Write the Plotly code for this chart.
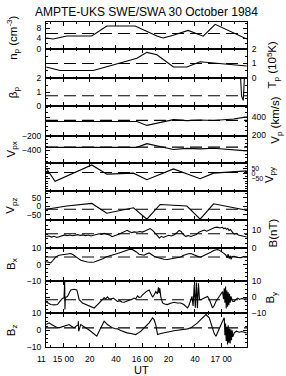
import numpy as np
import plotly.graph_objects as go

title_text = "AMPTE-UKS SWE/SWA 30 October 1984"

# ---- data (UT in minutes after 14:00) ----
np_t = [47.0, 52.2, 62.6, 81.6, 93.0, 114.6, 131.1, 135.9, 143.5, 154.9, 166.3, 175.4, 199.4]
np_v = [4.2, 3.8, 5.0, 5.0, 8.9, 8.9, 5.0, 4.2, 5.3, 7.2, 4.9, 9.6, 3.8]
np_ref = 6.0

tp_t = [47.0, 57.5, 82.8, 100.6, 115.9, 123.5, 131.1, 143.7, 153.9, 164.0, 176.7, 189.4, 199.4]
tp_v = [0.76, 0.52, 0.52, 1.0, 1.36, 1.76, 1.6, 0.76, 0.76, 1.12, 1.0, 0.93, 0.83]
tp_ref = 1.0

bp_t = [47.0, 120.0, 194.5, 195.5, 196.8, 197.8, 199.4]
bp_v = [2.4, 2.4, 2.4, 0.7, 0.4, 2.4, 2.4]
bp_ref = 0.74

vp_t = [47.0, 115.9, 123.5, 143.7, 153.9, 164.0, 174.2, 189.4, 199.4]
vp_v = [353, 353, 310, 372, 362, 368, 363, 380, 402]
vp_ref = 364

vpx_t = [47.0, 115.9, 123.5, 143.7, 153.9, 164.0, 174.2, 189.4, 199.4]
vpx_v = [-358, -358, -308, -386, -372, -378, -370, -386, -406]
vpx_ref = -355

vpy_t = [47.0, 53.7, 81.6, 93.0, 113.3, 123.5, 143.7, 164.0, 174.2, 199.4]
vpy_v = [57, -76, 90, -3, 7, -60, 50, -50, 7, 30]
vpy_ref = 14

vpz_t = [47.0, 62.6, 81.6, 93.0, 113.3, 123.5, 133.6, 153.9, 164.0, 174.2, 199.4]
vpz_v = [-17, 2, 17, -40, -8, -75, 11, 2, -75, 15, -23]
vpz_ref = -17

b_t = [47.0, 49, 51, 53, 55, 57, 59, 61, 63, 65, 67, 69, 71, 73, 75, 77, 79, 81, 83, 85,
       87, 89, 91, 93, 95, 97, 99, 101, 103, 105, 107, 108.5, 110, 112, 114, 116, 118, 120,
       122, 124, 126, 128, 130, 131.5, 133, 134.5, 136, 138, 140, 142, 144, 146, 148, 149.5,
       151, 153, 155, 157, 159, 161, 163, 165, 167, 169, 171, 173, 175, 177, 179, 181, 182,
       183, 184, 185, 186, 187, 188, 189, 190, 191.5, 193, 195, 197, 199.4]
b_v = [6.3, 6.6, 6.0, 6.4, 5.8, 6.2, 6.9, 7.2, 6.8, 7.1, 6.7, 7.0, 7.3, 6.9, 7.2, 6.8, 7.1, 6.6,
       6.9, 7.3, 7.8, 7.5, 8.0, 7.6, 7.2, 6.2, 6.5, 7.2, 7.8, 8.5, 9.2, 9.7, 9.0, 8.4, 8.8, 8.6,
       9.0, 8.7, 9.3, 10.0, 10.6, 9.5, 8.2, 6.8, 5.5, 6.4, 5.8, 6.3, 7.0, 6.6, 7.1, 8.2, 9.6,
       9.0, 7.5, 6.4, 6.8, 6.3, 6.9, 7.4, 8.6, 9.4, 9.8, 9.2, 9.9, 10.6, 11.2, 11.4, 10.9, 11.3,
       10.5, 11.0, 10.2, 10.8, 9.6, 10.1, 8.8, 8.2, 7.6, 8.0, 7.1, 6.8, 6.1, 6.0]
b_ref = 7.8

bx_t = [47, 49, 50.4, 52, 54.2, 56.7, 58.5, 60.5, 63, 65.6, 67.5, 69.4, 71, 73.2, 75.5, 78.3,
        81, 83.4, 86, 88.5, 90.5, 92.3, 94, 96.1, 98.5, 101.1, 103.5, 106.2, 108, 110, 112,
        113.8, 115.5, 117.6, 119.5, 121.4, 123.3, 125.2, 127, 129, 131.5, 134.1, 136.5, 139.1,
        141.5, 144.2, 146.5, 149.3, 151, 153.1, 155, 157, 159, 160.8, 162.5, 164.6, 167, 169.6,
        172, 174.7, 176, 177.2, 178.5, 180, 181, 182.3, 183.6, 184.5, 185.2, 186.1, 186.8,
        187.5, 188.3, 189.9, 192, 195, 197, 199.4]
bx_v = [1.8, 1.3, 1.0, 2.5, 4.7, 5.8, 6.0, 6.4, 6.6, 6.8, 6.0, 5.1, 4.0, 2.7, 2.0, 1.6, 1.4,
        1.6, 2.4, 3.1, 3.8, 4.7, 5.2, 5.8, 6.2, 6.8, 7.5, 8.4, 8.9, 9.3, 9.5, 8.8, 7.8, 6.4,
        6.0, 5.8, 6.6, 7.2, 6.2, 5.1, 4.3, 3.7, 3.3, 3.1, 3.4, 3.7, 4.1, 4.7, 5.6, 6.4, 6.7,
        6.8, 6.0, 5.1, 4.9, 4.7, 5.5, 6.4, 7.6, 8.8, 9.2, 9.3, 8.9, 8.2, 7.8, 6.8, 5.8, 4.2,
        6.5, 3.7, 5.5, 3.2, 5.0, 5.1, 4.4, 4.3, 4.9, 4.7]
bx_ref = 4.7

by_t = [47, 49, 50.4, 53, 55.5, 57.5, 59.3, 60.5, 61.0, 61.2, 61.5, 63.1, 64.5, 65.6, 68.2,
        70.2, 71, 72, 74.5, 77, 79.6, 83.4, 86, 88, 89.8, 91, 92.3, 93.5, 94.5, 96.1, 98, 99.5,
        101.1, 103, 104.5, 106.2, 108, 110, 112, 113.8, 115, 116.4, 117.5, 118.9, 120, 121.4,
        123, 125.2, 126.5, 127.8, 129, 130.3, 131.5, 132.3, 132.8, 133.3, 134.1, 135.4, 137,
        139.1, 141.5, 144.2, 146.5, 149.3, 151.5, 153.1, 154.4, 155.5, 157, 157.8, 158.6,
        159.5, 160.3, 161.1, 161.9, 162.7, 163.5, 164.6, 167.1,
        169.6, 171, 172.2, 173.4, 174.8, 176, 178.5, 180, 181, 181.8, 182.3, 182.8, 183.3,
        183.8, 184.3, 184.8, 185.3, 185.8, 186.3, 186.8, 187.4, 188.5, 189.9, 191, 192.5, 194,
        195.5, 197.5, 199.4]
by_v = [-3.0, -4.2, -4.6, -4.8, -4.6, -2.5, -0.8, -0.4, 9.5, -7.7, -0.2, 0.4, 2.5, 4.4, 4.8,
        4.4, 2.0, -1.6, -3.6, -4.6, -5.7, -6.7, -4.6, -3.0, -1.6, -0.4, -1.0, 0.2, -0.8, -1.2,
        -0.6, -1.8, -2.6, -2.2, -3.0, -3.2, -2.4, -2.0, -1.4, -0.6, -1.2, 0.8, -0.2, 0.0, 1.2,
        2.4, 3.4, 4.4, 2.2, 0.0, 1.5, 3.4, 2.0, 6.0, 2.5, 5.5, 0.0, -3.6, -4.2, -4.6, -3.8,
        -3.2, -3.6, -3.6, -4.6, -5.7, -6.7, -5.0, -1.6, 0.5, -5.5, 7.5, -6.5, 9.0, -6.8, 8.5,
        -1.6, -1.6, -0.6, 0.4, -1.5, -3.6, -6.7, -5.0, -2.6, 0.4, 1.8,
        3.4, -1.2, 5.5, -3.5, 6.5, -7.0, 4.0, -6.0, 3.0, -5.0, 2.0, -3.5, 0.5, -2.5, -2.6,
        -1.5, -0.6, -1.4, -0.9, -1.2, -0.8]
by_ref = -1.6

bz_t = [47, 49.1, 51, 52.9, 54.8, 56.7, 58.6, 60.5, 62.4, 64.3, 66.2, 68.1, 70, 71.2, 71.4,
        71.6, 73.2, 75, 77, 79, 80.8, 83.4, 85.4, 87.2, 89.7, 91, 93.5, 95.5, 97.3, 99, 101.1,
        103.5, 106.2, 108.5, 111.3, 113, 115.1, 117, 118.9, 121.4, 123.3, 125.2, 127.8, 129,
        130.3, 131.1, 131.6, 134.1, 136, 137.9, 139.8, 141.7, 144, 146.8, 149.5, 151.9, 154.5,
        156.9, 159.5, 162, 164, 165.8, 168.4, 170.9, 173.4, 174.7, 176, 178.5, 181, 182.3,
        182.8, 183.3, 183.8, 184.3, 184.8, 185.3, 185.8, 186.3, 186.8, 187.3, 187.8, 188.3,
        188.8, 189.9, 191.5, 193.7, 195.5, 197.5, 199.4]
bz_v = [3.4, 4.4, 3.4, 2.4, 1.8, 1.4, 1.9, 2.4, 2.9, 3.4, 2.4, 1.4, 2.6, 3.2, 5.4, -0.6, 3.4,
        2.6, 1.4, 0.4, -0.6, -2.6, -3.6, -0.6, 3.4, 5.4, 3.4, 2.2, 1.4, 1.0, 0.8, -0.2, -1.2,
        -1.6, -2.0, -2.3, -2.6, -1.6, -0.6, 1.4, 2.8, 4.4, 7.4, 6.4, 3.0, 0.4, -2.6, -2.0, -1.6,
        -1.2, -0.8, -0.6, -0.3, 0.0, 0.2, 0.4, 0.8, 1.4, 2.8, 4.4, 6.0, 7.4, 9.4, 7.4, 1.4,
        -2.0, -3.6, 1.4, 5.4, 7.4, -3.0, 4.0, -6.5, 2.0, -8.6, 3.0, -7.5, 1.0, -8.0, 0.5, -6.0,
        0.0, -4.0, -1.6, -0.6, -1.2, -0.8, -1.2, -1.6]
bz_ref = 1.4

# x-axis ticks
x_tickvals = [60, 80, 100, 120, 140, 160, 180]
x_ticktext = ["15 00", "20", "40", "16 00", "20", "40", "17 00"]
x_range = [46.8, 199.6]

# ---- panel styling ----
FONT = "Liberation Sans, Arial, sans-serif"
panels = [
    dict(t=np_t, v=np_v, ref=np_ref, side="left", rng=[0, 10.5], tv=[0, 4, 8], mn=2,
         title="n<sub>p</sub> (cm<sup>-3</sup>)", tf=8.5),
    dict(t=tp_t, v=tp_v, ref=tp_ref, side="right", rng=[-0.01, 2.01], tv=[0, 1, 2], mn=0.5,
         title="T<sub>p</sub> (10<sup>5</sup>K)", tf=8.5),
    dict(t=bp_t, v=bp_v, ref=bp_ref, side="left", rng=[-0.01, 2.01], tv=[0, 1, 2], mn=0.5,
         title="β<sub>p</sub>", tf=8.5),
    dict(t=vp_t, v=vp_v, ref=vp_ref, side="right", rng=[199, 521], tv=[200, 400], mn=50,
         title="V<sub>p</sub> (km/s)", tf=8.5),
    dict(t=vpx_t, v=vpx_v, ref=vpx_ref, side="left", rng=[-573, -199], tv=[-400, -200], mn=50,
         title="V<sub>px</sub>", tf=8.5),
    dict(t=vpy_t, v=vpy_v, ref=vpy_ref, side="right", rng=[-173, 107], tv=[-50, 0, 50], mn=25,
         title="V<sub>py</sub>", tf=7),
    dict(t=vpz_t, v=vpz_v, ref=vpz_ref, side="left", rng=[-77, 90], tv=[-50, 0, 50], mn=25,
         title="V<sub>pz</sub>", tf=8.5),
    dict(t=b_t, v=b_v, ref=b_ref, side="right", rng=[-0.05, 15.5], tv=[0, 10], mn=2.5,
         title="B(nT)", tf=8.5),
    dict(t=bx_t, v=bx_v, ref=bx_ref, side="left", rng=[-10.05, 10.1], tv=[-10, 0, 10], mn=2.5,
         title="B<sub>x</sub>", tf=8.5),
    dict(t=by_t, v=by_v, ref=by_ref, side="right", rng=[-10.05, 10.05], tv=[-10, 0, 10], mn=2.5,
         title="B<sub>y</sub>", tf=8.5),
    dict(t=bz_t, v=bz_v, ref=bz_ref, side="left", rng=[-10.05, 10.05], tv=[-10, 0, 10], mn=2.5,
         title="B<sub>z</sub>", tf=8.5),
]

W, H = 286, 376
ML, MR, MT, MB = 46, 39, 22, 25
bounds_px = [22, 49, 79, 107, 137, 165, 193, 222, 251, 284, 317, 351]
title_px = [(13, 38), (273, 66), (14, 93), (276, 122), (12, 151), (270, 177),
            (11, 208), (273, 236), (12, 267), (271, 301), (12, 334)]

pw, ph = W - ML - MR, H - MT - MB


def px2paper(px, py):
    return (px - ML) / pw, (H - MB - py) / ph


def ax_id(letter, i):
    return letter if i == 1 else f"{letter}{i}"


fig = go.Figure()
layout = dict(
    width=W, height=H, margin=dict(l=ML, r=MR, t=MT, b=MB),
    paper_bgcolor="white", plot_bgcolor="white", showlegend=False,
    font=dict(family=FONT, size=9, color="black"),
    annotations=[], shapes=[],
)

minor_x = [m for m in range(50, 200, 10) if m % 20 != 0]
n = len(panels)
for i, p in enumerate(panels, start=1):
    xa, ya = ax_id("x", i), ax_id("y", i)
    fig.add_trace(go.Scatter(x=p["t"], y=p["v"], mode="lines",
                             line=dict(color="black", width=1.1),
                             xaxis=xa, yaxis=ya, hoverinfo="skip"))
    y0 = (H - MB - bounds_px[i]) / ph
    y1 = (H - MB - bounds_px[i - 1]) / ph
    layout[ax_id("xaxis", i)] = dict(
        domain=[0, 1], anchor=ya, range=x_range, showgrid=False, zeroline=False,
        showline=True, mirror="allticks", linecolor="black", linewidth=1,
        ticks="inside", ticklen=4, tickwidth=1, tickcolor="black",
        tickmode="array", tickvals=x_tickvals, ticktext=x_ticktext,
        minor=dict(ticks="inside", ticklen=2, tickwidth=1, tickcolor="black",
                   tickmode="array", tickvals=minor_x),
        showticklabels=(i == n), tickfont=dict(size=8.5, family=FONT),
        ticklabelstandoff=4,
    )
    lo, hi = p["rng"]
    mv = [round(float(v), 3) for v in np.arange(np.ceil(lo / p["mn"]) * p["mn"], hi, p["mn"])
          if all(abs(v - t) > 1e-6 for t in p["tv"])]
    layout[ax_id("yaxis", i)] = dict(
        domain=[y0, y1], anchor=xa, side=p["side"], range=p["rng"],
        showgrid=False, zeroline=False, showline=True, mirror="allticks",
        linecolor="black", linewidth=1, ticks="inside", ticklen=4, tickwidth=1,
        tickcolor="black", tickmode="array", tickvals=p["tv"],
        minor=dict(ticks="inside", ticklen=2, tickwidth=1, tickcolor="black",
                   tickmode="array", tickvals=mv),
        tickfont=dict(size=p["tf"], family=FONT), ticklabelstandoff=2,
    )
    layout["shapes"].append(dict(
        type="line", xref=f"{xa} domain", x0=0, x1=1, yref=ya, y0=p["ref"], y1=p["ref"],
        line=dict(color="black", width=1.1, dash="12px,6px"), layer="above"))
    ax, ay = px2paper(*title_px[i - 1])
    layout["annotations"].append(dict(
        text=p["title"], x=ax, y=ay, xref="paper", yref="paper", showarrow=False,
        textangle=-90, xanchor="center", yanchor="middle",
        font=dict(size=11.5, family=FONT, color="black")))

tx, ty = px2paper(146, 12)
layout["annotations"].append(dict(text=title_text, x=tx, y=ty, xref="paper", yref="paper",
                                  showarrow=False, xanchor="center", yanchor="middle",
                                  font=dict(size=12, family=FONT, color="black")))
ux, uy = px2paper(141, 374)
layout["annotations"].append(dict(text="UT", x=ux, y=uy, xref="paper", yref="paper",
                                  showarrow=False, xanchor="center", yanchor="middle",
                                  font=dict(size=11, family=FONT, color="black")))
ex, ey = px2paper(41.5, 363)
layout["annotations"].append(dict(text="11", x=ex, y=ey, xref="paper", yref="paper",
                                  showarrow=False, xanchor="center", yanchor="middle",
                                  font=dict(size=8.5, family=FONT, color="black")))

fig.update_layout(**layout)
fig.write_html("out.html")
